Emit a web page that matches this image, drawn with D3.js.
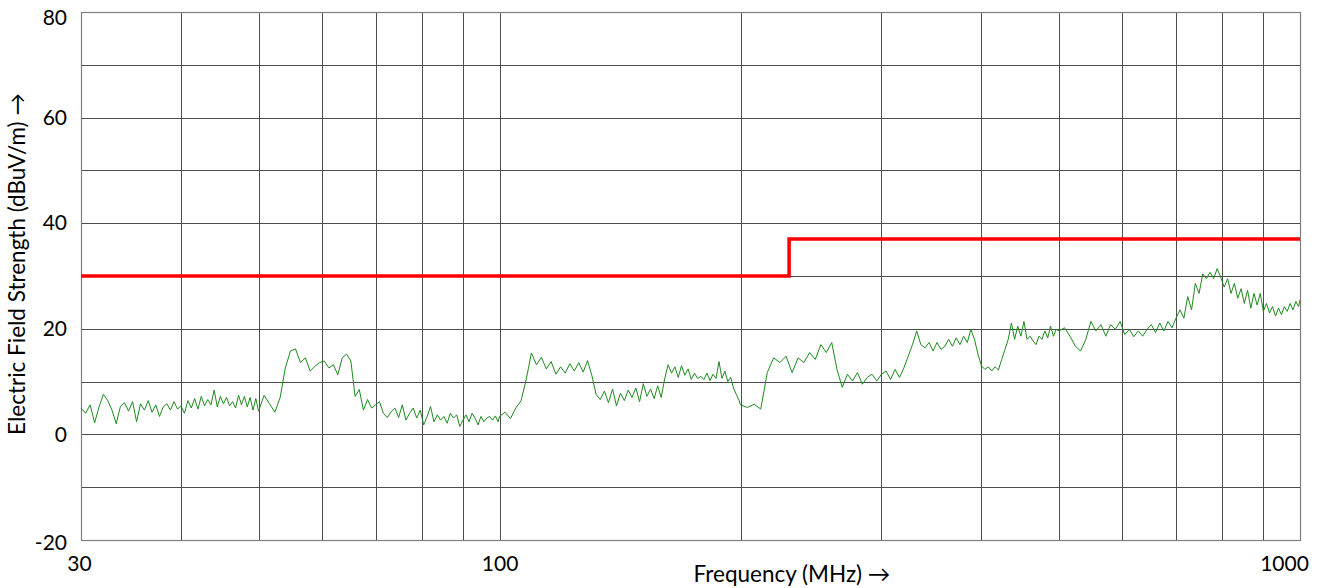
<!DOCTYPE html>
<html>
<head>
<meta charset="utf-8">
<script src="https://cdn.jsdelivr.net/npm/d3@7"></script>
<style>
  body { margin: 0; background: #fff; }
  svg text { font-family: Lato, "Open Sans", sans-serif; fill: #000; }
</style>
</head>
<body>
<div id="chart"></div>
<script>
// Limit line (MHz / dBuV/m)
const limitMHz = [30, 230, 230, 1000];
const limitDb = [30, 30, 37, 37];

const traceMHz = [
  30, 30.4, 30.8, 31.2, 31.6, 32, 32.4, 32.8, 33.2, 33.6, 34, 34.4, 34.8, 35.2, 35.6, 36, 36.4, 36.8, 37.2, 37.6,
  38, 38.4, 38.8, 39.2, 39.6, 40, 40.4, 40.8, 41.2, 41.6, 42, 42.4, 42.8, 43.2, 43.6, 44, 44.4, 44.8, 45.2, 45.6,
  46, 46.4, 46.8, 47.2, 47.6, 48, 48.4, 48.8, 49.2, 49.6, 50,
  50.8, 51.6, 52.4, 53.2, 54, 54.8, 55.6, 56.4, 57.2, 58, 58.8, 59.6, 60.4, 61.2, 62, 62.8, 63.6, 64.4, 65.2, 66,
  66.8, 67.6, 68.4, 69.2, 70, 70.8, 71.6, 72.4, 73.2, 74, 74.8, 75.6, 76.4, 77.2, 78, 78.8, 79.6, 80.4, 81.2, 82,
  82.8, 83.6, 84.4, 85.2, 86, 86.8, 87.6, 88.4, 89.2, 90, 90.8, 91.6, 92.4, 93.2, 94, 94.8, 95.6, 96.4, 97.2, 98,
  98.8, 99.6, 100,
  101.6, 103.2, 104.8, 106.4, 108, 109.6, 111.2, 112.8, 114.4, 116, 117.6, 119.2, 120.8, 122.4, 124, 125.6, 127.2,
  128.8, 130.4, 132, 133.6, 135.2, 136.8, 138.4, 140, 141.6, 143.2, 144.8, 146.4, 148, 149.6, 151.2, 152.8, 154.4,
  156, 157.6, 159.2, 160.8, 162.4, 164, 165.6, 167.2, 168.8, 170.4, 172, 173.6, 175.2, 176.8, 178.4, 180, 181.6,
  183.2, 184.8, 186.4, 188, 189.6, 191.2, 192.8, 194.4, 196, 197.6, 199.2, 200,
  204, 208, 212, 216, 220, 224, 228, 232, 236, 240, 244, 248, 252, 256, 260, 264, 268, 272, 276, 280, 284, 288,
  292, 296, 300, 304, 308, 312, 316, 320, 324, 328, 332, 336, 340, 344, 348, 352, 356, 360, 364, 368, 372, 376,
  380, 384, 388, 392, 396, 400, 404, 408, 412, 416, 420, 424, 428, 432, 436, 440, 444, 448, 452, 456, 460, 464,
  468, 472, 476, 480, 484, 488, 492, 496, 500,
  508, 516, 524, 532, 540, 548, 556, 564, 572, 580, 588, 596, 604, 612, 620, 628, 636, 644, 652, 660, 668, 676,
  684, 692, 700, 708, 716, 724, 732, 740, 748, 756, 764, 772, 780, 788, 796, 804, 812, 820, 828, 836, 844, 852,
  860, 868, 876, 884, 892, 900, 908, 916, 924, 932, 940, 948, 956, 964, 972, 980, 988, 996, 1000
];
const traceDb = [
  5.0, 4.0, 5.6, 2.2, 5.2, 7.6, 6.4, 4.6, 2.0, 5.3, 6.0, 4.4, 6.2, 2.4, 5.8, 4.6, 6.4, 4.2, 5.6, 3.4,
  5.2, 5.8, 4.6, 6.2, 4.8, 5.4, 4.0, 6.4, 5.0, 6.8, 4.8, 7.2, 5.4, 6.6, 5.6, 8.4, 5.2, 7.2, 5.8, 7.0,
  5.4, 6.2, 5.0, 7.4, 5.6, 7.2, 5.2, 7.0, 4.6, 6.8, 4.4,
  7.4, 5.8, 4.2, 7.0, 12.6, 15.8, 16.2, 13.6, 14.5, 12.0, 12.9, 13.6, 13.9, 12.6, 13.2, 11.3, 14.5, 15.2, 13.9, 7.2,
  8.5, 4.6, 6.6, 5.0, 5.6, 6.2, 4.0, 3.2, 4.3, 5.0, 3.2, 5.6, 2.7, 4.0, 5.0, 3.1, 4.6, 1.8, 3.4, 5.3,
  2.4, 3.7, 2.7, 3.4, 2.1, 4.0, 3.1, 3.7, 1.5, 2.7, 3.7, 2.4, 4.0, 3.1, 1.8, 3.4, 2.4, 3.1, 3.4, 2.7,
  3.5, 2.4, 3.4,
  4.2, 3.0, 5.0, 6.4, 10.5, 15.4, 13.2, 14.6, 12.4, 13.8, 11.4, 12.8, 11.6, 13.4, 12.0, 13.6, 11.8,
  14.0, 11.2, 7.6, 6.6, 8.2, 6.0, 8.6, 5.4, 7.8, 6.4, 8.4, 7.0, 8.8, 6.2, 9.6, 7.2, 8.6,
  6.8, 9.2, 7.0, 10.5, 13.2, 11.6, 12.8, 10.8, 13.0, 11.2, 12.4, 10.4, 11.6, 10.6, 11.0, 10.4, 11.6,
  10.2, 11.4, 10.6, 13.8, 10.6, 12.0, 10.0, 10.8, 8.8, 7.6, 6.4, 5.6,
  5.1, 5.7, 4.8, 11.7, 14.5, 13.6, 14.8, 11.7, 14.5, 13.6, 15.5, 14.2, 17.0, 15.5, 17.4, 12.3, 8.9, 11.4, 10.1, 11.7, 9.5, 10.8,
  11.4, 10.1, 11.4, 12.0, 10.4, 12.3, 10.8, 12.6, 14.8, 17.0, 19.6, 17.0, 16.4, 17.4, 15.8, 17.4, 16.1, 16.7, 18.0, 16.7, 18.3, 17.0,
  18.6, 17.4, 19.9, 18.0, 15.2, 13.0, 12.3, 12.8, 12.0, 12.8, 12.2, 14.2, 16.1, 18.0, 21.1, 18.0, 20.5, 18.6, 21.4, 18.0, 18.6, 17.7,
  17.0, 18.6, 18.0, 19.6, 18.3, 20.5, 18.6, 19.9, 19.6,
  20.2, 18.6, 16.7, 15.8, 18.0, 21.4, 19.6, 20.8, 18.6, 20.8, 19.9, 21.4, 18.9, 19.9, 18.5, 19.6, 18.6, 19.9, 20.8, 19.3, 21.1, 19.6,
  21.4, 20.2, 22.0, 23.6, 22.0, 26.1, 23.6, 28.6, 26.7, 30.4, 29.5, 30.7, 29.5, 31.4, 29.8, 27.9, 29.5, 26.7, 28.6, 25.8, 27.6, 24.8,
  27.3, 23.9, 26.7, 24.5, 26.7, 23.3, 24.8, 23.0, 24.2, 22.4, 23.9, 22.7, 24.2, 23.3, 24.8, 23.6, 25.2, 24.2, 25.5
];

// Axis ticks
const yTicks = [-20, 0, 20, 40, 60, 80];
const yGrid = [-10, 0, 10, 20, 30, 40, 50, 60, 70];
const xTicks = [30, 100, 1000];
const xGrid = [40, 50, 60, 70, 80, 90, 100, 200, 300, 400, 500, 600, 700, 800, 900];

const W = 1321, H = 588;
const margin = { top: 12, right: 21, bottom: 48, left: 81 };
const width = W - margin.left - margin.right;
const height = H - margin.top - margin.bottom;

const svg = d3.select("#chart").append("svg")
    .attr("width", W)
    .attr("height", H);

const g = svg.append("g")
    .attr("transform", `translate(${margin.left},${margin.top})`);

const x = d3.scaleLog().domain([30, 1000]).range([0, width]);
const y = d3.scaleLinear().domain([-20, 80]).range([height, 0]);

// grid
g.append("g")
    .attr("class", "grid")
    .selectAll("line.v")
    .data(xGrid)
    .join("line")
    .attr("x1", d => Math.round(x(d)) + 0.5)
    .attr("x2", d => Math.round(x(d)) + 0.5)
    .attr("y1", 0)
    .attr("y2", height)
    .attr("stroke", "#4d4d4d")
    .attr("stroke-width", 1);

g.append("g")
    .attr("class", "grid")
    .selectAll("line.h")
    .data(yGrid)
    .join("line")
    .attr("x1", 0)
    .attr("x2", width)
    .attr("y1", d => Math.round(y(d)) + 0.5)
    .attr("y2", d => Math.round(y(d)) + 0.5)
    .attr("stroke", "#4d4d4d")
    .attr("stroke-width", 1);

// frame
g.append("rect")
    .attr("x", 0.5)
    .attr("y", 0.5)
    .attr("width", Math.round(width))
    .attr("height", Math.round(height))
    .attr("fill", "none")
    .attr("stroke", "#7f7f7f")
    .attr("stroke-width", 1.2);

// axes (labels only); the end labels are nudged inward like the original
const yAxis = d3.axisLeft(y).tickValues(yTicks).tickFormat(d => String(d)).tickSize(0).tickPadding(14);
g.append("g")
    .call(yAxis)
    .call(a => a.select(".domain").remove())
    .call(a => a.selectAll("text")
        .attr("font-family", "Lato, 'Open Sans', sans-serif")
        .attr("font-size", 21)
        .attr("y", d => d === 80 ? 6 : (d === -20 ? 3 : 0)));

const xAxis = d3.axisBottom(x).tickValues(xTicks).tickFormat(d => String(d)).tickSize(0).tickPadding(16);
g.append("g")
    .attr("transform", `translate(0,${height})`)
    .call(xAxis)
    .call(a => a.select(".domain").remove())
    .call(a => a.selectAll("text")
        .attr("font-family", "Lato, 'Open Sans', sans-serif")
        .attr("font-size", 21)
        .attr("dx", d => d === 1000 ? -16 : (d === 30 ? -2 : 0)));

// axis titles
svg.append("text")
    .attr("x", 792)
    .attr("y", 582)
    .attr("text-anchor", "middle")
    .attr("font-size", 22.5)
    .text("Frequency (MHz) \u2192");

svg.append("text")
    .attr("transform", "translate(25,264) rotate(-90)")
    .attr("text-anchor", "middle")
    .attr("font-size", 22.5)
    .text("Electric Field Strength (dBuV/m) \u2192");

// measured trace
const trace = traceMHz.map((f, i) => ({ f: f, v: traceDb[i] }));
const line = d3.line()
    .x(d => x(d.f))
    .y(d => y(d.v));

g.append("path")
    .datum(trace)
    .attr("d", line)
    .attr("fill", "none")
    .attr("stroke", "#1e8a1e")
    .attr("stroke-width", 1)
    .attr("stroke-linejoin", "round");

// limit line
const limit = limitMHz.map((f, i) => ({ f: f, v: limitDb[i] }));
g.append("path")
    .datum(limit)
    .attr("d", line)
    .attr("fill", "none")
    .attr("stroke", "#ff0000")
    .attr("stroke-width", 3.5);
</script>
</body>
</html>
